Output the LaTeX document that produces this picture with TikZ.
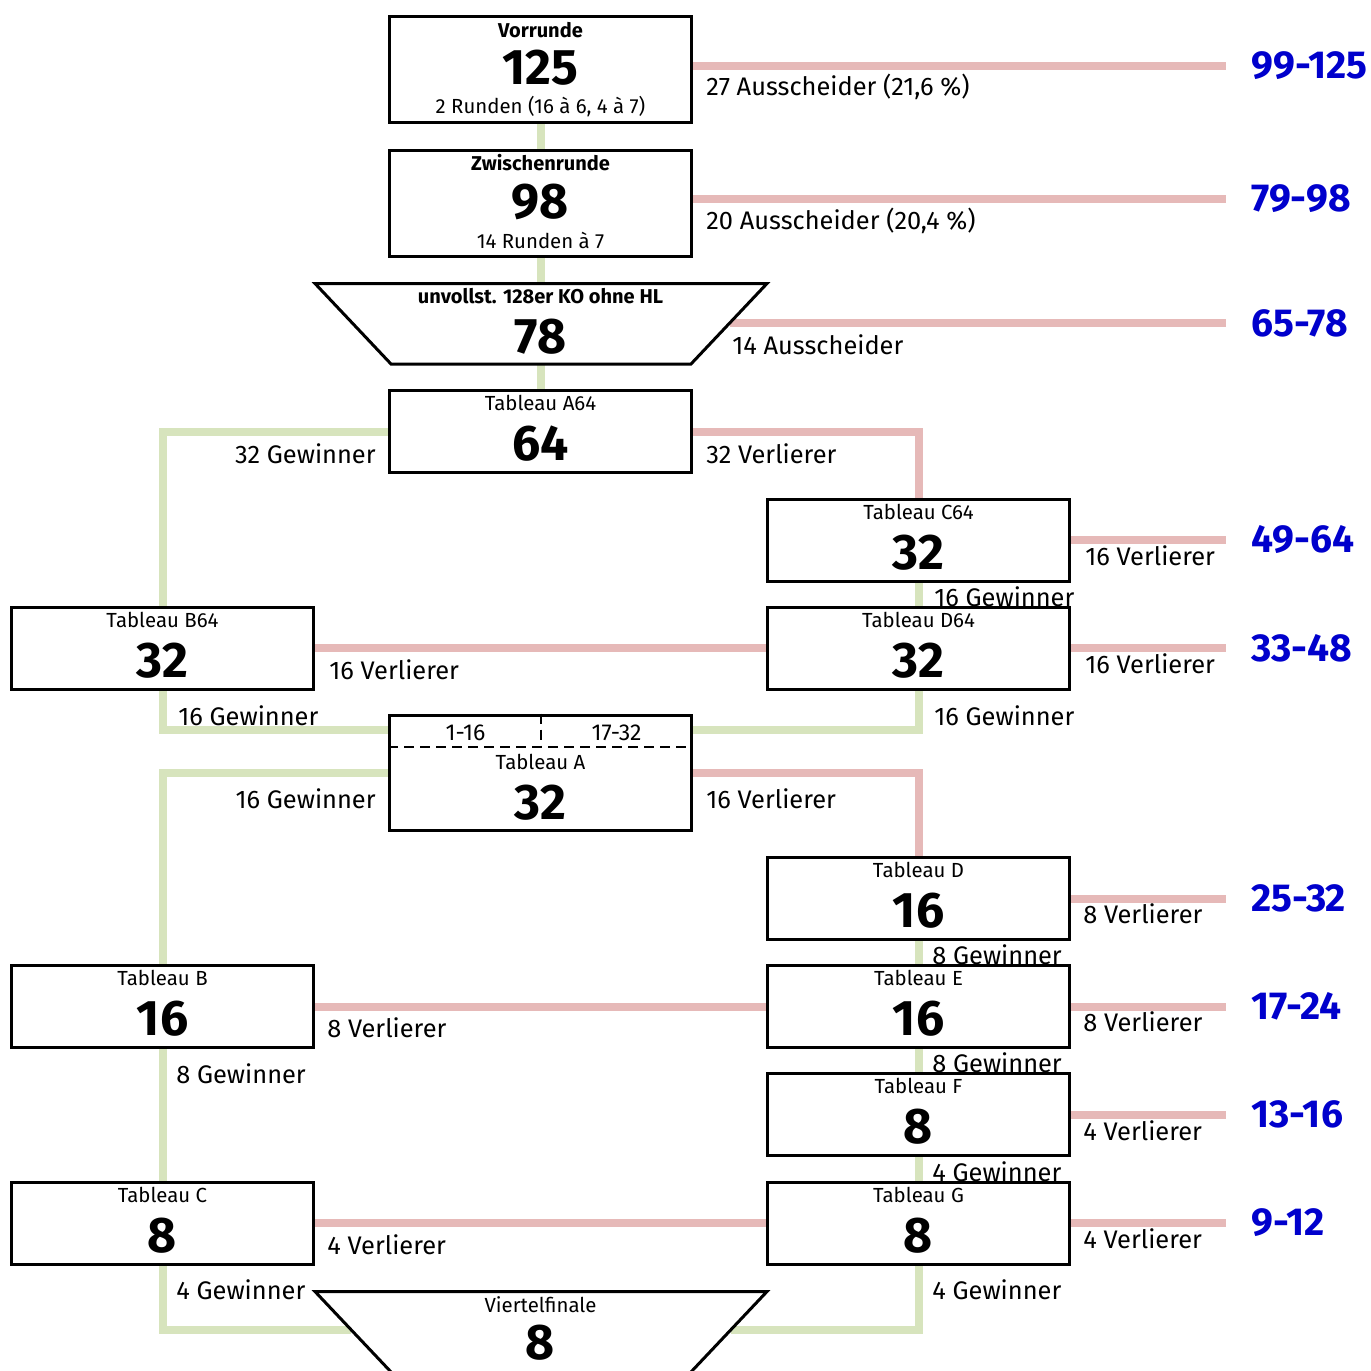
\documentclass[tikz,border=0pt]{standalone}
\usepackage{fontspec}
\setmainfont{Fira Sans}
\usetikzlibrary{calc,backgrounds}
\definecolor{gr}{RGB}{215,228,189}
\definecolor{rd}{RGB}{230,185,184}
\definecolor{bl}{RGB}{0,0,204}
\begin{document}
\begin{tikzpicture}[x=0.5pt,y=-0.5pt,
  box/.style={draw,line width=1.5pt,fill=white,minimum width=151pt,inner sep=0pt},
  bigbox/.style={box,minimum height=53pt},
  tabbox/.style={box,minimum height=41pt},
  ttl/.style={font=\fontsize{10}{12}\selectfont\bfseries,inner sep=0pt},
  sub/.style={font=\fontsize{10.2}{12}\selectfont,inner sep=0pt},
  num/.style={font=\fontsize{25}{29}\selectfont\bfseries,inner sep=0pt},
  lbl/.style={font=\fontsize{12.7}{15}\selectfont,inner sep=0pt},
  lw/.style={lbl,anchor=west},
  le/.style={lbl,anchor=east},
  rank/.style={font=\fontsize{19.5}{23}\selectfont\bfseries,text=bl,inner sep=0pt,anchor=west},
  grl/.style={draw=gr,line width=4pt},
  rdl/.style={draw=rd,line width=4pt},
  dsh/.style={line width=1pt,dash pattern=on 5pt off 3pt}]
\useasboundingbox (0,0) rectangle (1371,1371);

% boxes
\node[bigbox] (vr) at (540.5,69.5) {};
\node[ttl] (vrt) at ($(vr.north)+(0,15)$) {Vorrunde};
\node[num] (vrn) at ($(vr.north)+(0,53)$) {125};
\node[sub] (vrs) at ($(vr.north)+(0,92)$) {2 Runden (16 à 6, 4 à 7)};

\node[bigbox] (zw) at (540.5,203) {};
\node[ttl] (zwt) at ($(zw.north)+(0,14)$) {Zwischenrunde};
\node[num] (zwn) at ($(zw.north)+(0,53)$) {98};
\node[sub] (zws) at ($(zw.north)+(0,92)$) {14 Runden à 7};

\coordinate (k1) at (315,283.5);
\coordinate (k2) at (767,283.5);
\coordinate (k3) at (691,364);
\coordinate (k4) at (391,364);
\coordinate (ktop) at (540.5,283.5);
\coordinate (kbot) at (540.5,364);
\coordinate (kr) at (730,323);
\draw[line width=1.5pt,fill=white] (k1) -- (k2) -- (k3) -- (k4) -- cycle;
\node[ttl] (kot) at ($(ktop)+(0,13)$) {unvollst. 128er KO ohne HL};
\node[num] (kon) at ($(ktop)+(0,53)$) {78};

\node[tabbox] (A64) at (540.5,431.5) {};
\node[sub] (A64t) at ($(A64.north)+(0,14)$) {Tableau A64};
\node[num] (A64n) at ($(A64.north)+(0,55)$) {64};

\node[tabbox] (C64) at (918.5,540) {};
\node[sub] (C64t) at ($(C64.north)+(0,14)$) {Tableau C64};
\node[num] (C64n) at ($(C64.north)+(0,55)$) {32};

\node[tabbox] (B64) at (162.5,648) {};
\node[sub] (B64t) at ($(B64.north)+(0,14)$) {Tableau B64};
\node[num] (B64n) at ($(B64.north)+(0,55)$) {32};

\node[tabbox] (D64) at (918.5,648) {};
\node[sub] (D64t) at ($(D64.north)+(0,14)$) {Tableau D64};
\node[num] (D64n) at ($(D64.north)+(0,55)$) {32};

\node[box,minimum height=57.5pt] (TA) at (540.5,772.5) {};
\draw[dsh] ($(TA.north west)+(0,33.5)$) -- ($(TA.north east)+(0,33.5)$);
\draw[dsh] (TA.north) -- ($(TA.north)+(0,33.5)$);
\node[lbl,font=\fontsize{11.5}{14}\selectfont] (TAa) at ($(TA.north)+(-75,19)$) {1-16};
\node[lbl,font=\fontsize{11.5}{14}\selectfont] (TAb) at ($(TA.north)+(76,19)$) {17-32};
\node[sub] (TAt) at ($(TA.north)+(0,48)$) {Tableau A};
\node[num] (TAn) at ($(TA.north)+(0,89)$) {32};

\node[tabbox] (TD) at (918.5,898.5) {};
\node[sub] (TDt) at ($(TD.north)+(0,14)$) {Tableau D};
\node[num] (TDn) at ($(TD.north)+(0,55)$) {16};

\node[tabbox] (TB) at (162.5,1006.5) {};
\node[sub] (TBt) at ($(TB.north)+(0,14)$) {Tableau B};
\node[num] (TBn) at ($(TB.north)+(0,55)$) {16};

\node[tabbox] (TE) at (918.5,1006.5) {};
\node[sub] (TEt) at ($(TE.north)+(0,14)$) {Tableau E};
\node[num] (TEn) at ($(TE.north)+(0,55)$) {16};

\node[tabbox] (TF) at (918.5,1114.5) {};
\node[sub] (TFt) at ($(TF.north)+(0,14)$) {Tableau F};
\node[num] (TFn) at ($(TF.north)+(0,55)$) {8};

\node[tabbox] (TC) at (162.5,1223) {};
\node[sub] (TCt) at ($(TC.north)+(0,14)$) {Tableau C};
\node[num] (TCn) at ($(TC.north)+(0,55)$) {8};

\node[tabbox] (TG) at (918.5,1223) {};
\node[sub] (TGt) at ($(TG.north)+(0,14)$) {Tableau G};
\node[num] (TGn) at ($(TG.north)+(0,55)$) {8};

\coordinate (v1) at (315,1291.5);
\coordinate (v2) at (767,1291.5);
\coordinate (v3) at (663.1,1401.5);
\coordinate (v4) at (418.9,1401.5);
\coordinate (vtop) at (540.5,1291.5);
\coordinate (vl) at (351,1330);
\coordinate (vrr) at (731,1330);
\draw[line width=1.5pt,fill=white] (v1) -- (v2) -- (v3) -- (v4) -- cycle;
\node[sub] (vft) at ($(vtop)+(0,13)$) {Viertelfinale};
\node[num] (vfn) at ($(vtop)+(0,51)$) {8};

% rank ends
\coordinate (r99) at (1226,65.5);
\coordinate (r79) at (1226,198.5);
\coordinate (r65) at (1226,323);
\coordinate (r49) at (1226,540);
\coordinate (r33) at (1226,648);
\coordinate (r25) at (1226,898.5);
\coordinate (r17) at (1226,1006.5);
\coordinate (r13) at (1226,1114.5);
\coordinate (r9) at (1226,1223);

\node[rank] (k99) at (1251,65.5) {99-125};
\node[rank] (k79) at (1251,198.5) {79-98};
\node[rank] (k65) at (1251,323) {65-78};
\node[rank] (k49) at (1251,540) {49-64};
\node[rank] (k33) at (1251,648) {33-48};
\node[rank] (k25) at (1251,898.5) {25-32};
\node[rank] (k17) at (1251,1006.5) {17-24};
\node[rank] (k13) at (1251,1114.5) {13-16};
\node[rank] (k9) at (1251,1223) {9-12};

\begin{pgfonlayer}{background}
% green
\draw[grl] (vr.south) -- (zw.north);
\draw[grl] (zw.south) -- (ktop);
\draw[grl] (kbot) -- (A64.north);
\draw[grl] (A64.west) -| (B64.north);
\draw[grl] (C64.south) -- (D64.north);
\draw[grl] (B64.south) |- ($(TA.north west)+(0,16.5)$);
\draw[grl] (D64.south) |- ($(TA.north east)+(0,16.5)$);
\draw[grl] (TA.west) -| (TB.north);
\draw[grl] (TD.south) -- (TE.north);
\draw[grl] (TB.south) -- (TC.north);
\draw[grl] (TE.south) -- (TF.north);
\draw[grl] (TF.south) -- (TG.north);
\draw[grl] (TC.south) |- (vl);
\draw[grl] (TG.south) |- (vrr);
% red
\draw[rdl] ($(vr.east)+(0,-4)$) -- (r99);
\draw[rdl] ($(zw.east)+(0,-4.5)$) -- (r79);
\draw[rdl] (kr) -- (r65);
\draw[rdl] (A64.east) -| (C64.north);
\draw[rdl] (C64.east) -- (r49);
\draw[rdl] (B64.east) -- (D64.west);
\draw[rdl] (D64.east) -- (r33);
\draw[rdl] (TA.east) -| (TD.north);
\draw[rdl] (TD.east) -- (r25);
\draw[rdl] (TB.east) -- (TE.west);
\draw[rdl] (TE.east) -- (r17);
\draw[rdl] (TF.east) -- (r13);
\draw[rdl] (TC.east) -- (TG.west);
\draw[rdl] (TG.east) -- (r9);
% labels
\node[lw] (l1) at (706,87) {27 Ausscheider (21,6 \%)};
\node[lw] (l2) at (706,221) {20 Ausscheider (20,4 \%)};
\node[lw] (l3) at (732,345) {14 Ausscheider};
\node[le] (l4) at (376,454) {32 Gewinner};
\node[lw] (l5) at (706,454) {32 Verlierer};
\node[lw] (l6) at (1085,556) {16 Verlierer};
\node[lw] (l7) at (934,597) {16 Gewinner};
\node[lw] (l8) at (329,670) {16 Verlierer};
\node[lw] (l9) at (1085,664) {16 Verlierer};
\node[lw] (l10) at (178,716) {16 Gewinner};
\node[lw] (l11) at (934,716) {16 Gewinner};
\node[le] (l12) at (376,799) {16 Gewinner};
\node[lw] (l13) at (706,799) {16 Verlierer};
\node[lw] (l14) at (1083,914) {8 Verlierer};
\node[lw] (l15) at (932,955) {8 Gewinner};
\node[lw] (l16) at (327,1028) {8 Verlierer};
\node[lw] (l17) at (1083,1022) {8 Verlierer};
\node[lw] (l18) at (932,1063) {8 Gewinner};
\node[lw] (l19) at (176,1074) {8 Gewinner};
\node[lw] (l20) at (1083,1131) {4 Verlierer};
\node[lw] (l21) at (932,1172) {4 Gewinner};
\node[lw] (l22) at (327,1245) {4 Verlierer};
\node[lw] (l23) at (1083,1239) {4 Verlierer};
\node[lw] (l24) at (176,1290) {4 Gewinner};
\node[lw] (l25) at (932,1290) {4 Gewinner};
\end{pgfonlayer}
\end{tikzpicture}
\end{document}
